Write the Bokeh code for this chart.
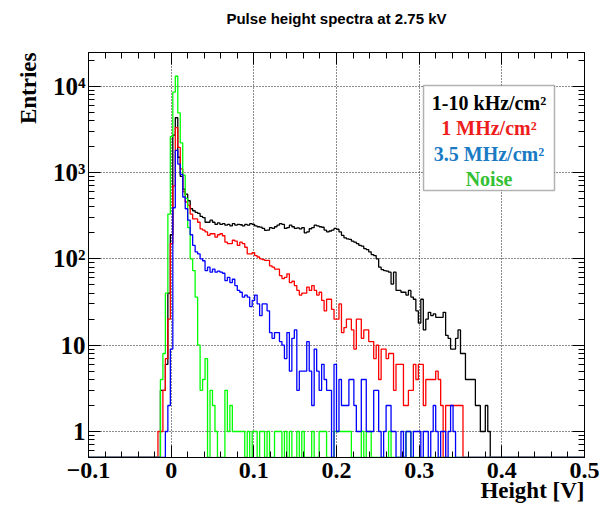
import numpy as np
from bokeh.plotting import figure
from bokeh.models import (Range1d, FixedTicker, LinearAxis, LogAxis, Label,
                          BoxAnnotation, Title)
from bokeh.embed import file_html
from bokeh.resources import INLINE

# ---- histogram binning (200 bins from -0.1 to 0.5 V) ----
x_min, x_max, n_bins = -0.1, 0.5, 200
first_bin = 28  # series below start at this bin index (x = -0.016 V)

# ---- series (entries per bin) ----
khz_counts = [0, 3, 3, 6, 40,
              190, 2700, 4300, 1500, 900, 640, 560, 470, 380, 360,
              345, 335, 310, 300, 265, 265, 280, 265, 250, 260,
              250, 255, 245, 250, 240, 255, 245, 250, 248, 240,
              250, 245, 255, 250, 240, 235,
              233, 225, 213, 215, 230, 225, 235, 245, 255, 250,
              225, 230, 245, 235, 225, 228, 222, 230, 200, 205,
              223, 230, 245, 240, 235, 232, 215, 205, 210, 215,
              225, 220, 205, 187, 175, 170, 168, 160, 156, 150,
              143, 140, 131, 128, 120, 112, 109, 100,
              80, 75, 73, 72, 70, 51, 70,
              43, 43, 41, 41, 38, 43, 36, 34, 25, 18,
              34, 15, 20, 24, 22, 23, 21, 21, 21, 24,
              13, 12, 9, 9, 12, 15, 8, 8,
              4, 4, 4, 4, 2, 2, 1, 1, 2, 1]

mhz1_counts = [1, 1, 3, 7, 20,
               150, 700, 3300, 1950, 1100, 600, 455, 415, 330, 290,
               290, 265, 222, 215, 205, 187, 195, 195, 178, 190,
               195, 185, 156, 150, 150, 164, 160, 143, 156, 150,
               136, 114, 114, 118,
               109, 105, 100, 98, 96, 96, 83, 80, 76, 76,
               64, 59, 61, 67, 53, 55, 49, 43, 38, 40,
               40, 47, 43, 49, 43, 38,
               41, 33, 25, 34, 34, 26, 20, 20, 30, 14,
               16, 20, 20, 15, 9, 20, 20, 12, 15, 15,
               11, 11, 7, 10,
               4, 9, 9, 7, 8, 8, 3, 6, 6, 6,
               2, 2, 3, 3, 6, 4, 6, 6, 2, 4,
               4, 4, 4, 5, 4, 2, 0, 2, 2, 2,
               2, 2, 2, 2]

mhz35_counts = [0, 0, 0, 1, 2,
                9, 390, 1800, 1250, 950, 520, 380, 280, 190, 143,
                120, 114, 100, 95, 73, 80, 70, 76, 70, 72,
                70, 68, 56, 61, 53, 58, 49, 43, 41, 36,
                38, 36, 28, 33, 38, 30, 22, 30, 30, 25,
                14, 12, 14, 14, 11, 10, 7, 14, 5, 12,
                15, 3, 5, 5, 5, 11, 5, 2, 9, 5,
                3, 6, 4, 3, 3, 0, 6, 1, 4, 2,
                2, 2, 4, 4, 2, 1, 1, 4, 4, 1,
                1, 1, 3, 3, 1, 0, 1, 2, 2, 1,
                1, 0, 0, 1, 0, 1, 1, 0, 1, 1,
                1, 0, 1, 1, 0, 1, 2, 1, 0, 1,
                1, 0, 1, 2, 1]

noise_counts = [0, 4, 8, 40, 330,
                2600, 8500, 13000, 4900, 2200, 930, 500, 230, 100, 73,
                36, 10, 3, 4, 7, 0, 3, 2, 1, 0,
                0, 0, 3, 1, 2, 1, 1, 1, 1, 1,
                0, 1, 0, 1, 1, 0, 1, 1, 0, 1,
                0, 0, 1, 1, 1, 0, 1, 0, 1, 0,
                0, 1, 0, 1, 0, 0, 0, 1, 0, 0,
                1, 1, 1, 0, 0, 0, 1, 1, 1, 1,
                1, 1, 1, 0, 0, 0, 0, 1, 0, 1,
                1, 0, 0, 0, 0, 0, 0, 0, 1, 0,
                0, 0, 0, 0, 0, 1, 1, 0]

series_names = ["1-10 kHz/cm\u00b2", "1 MHz/cm\u00b2", "3.5 MHz/cm\u00b2", "Noise"]
line_colors = ["#000000", "#ff0000", "#0000ff", "#00ff00"]
text_colors = ["#000000", "#ee1c1c", "#1a7ac4", "#33c033"]

x_ticks = [-0.1, 0, 0.1, 0.2, 0.3, 0.4, 0.5]
x_tick_labels = ["\u22120.1", "0", "0.1", "0.2", "0.3", "0.4", "0.5"]
y_ticks = [1, 10, 100, 1000, 10000]
y_tick_labels = ["1", "10", "10\u00b2", "10\u00b3", "10\u2074"]

y_lo, y_hi = 0.5, 24500

# ---- layout (page pixels) ----
FRAME_L, FRAME_T, FRAME_W, FRAME_H = 88, 52, 496, 405
BR, BB = 25, 47


def fx(px):
    return x_min + (px - FRAME_L) / FRAME_W * (x_max - x_min)


def fy(py):
    l0, l1 = np.log10(y_lo), np.log10(y_hi)
    return 10 ** (l0 + (FRAME_T + FRAME_H - py) / FRAME_H * (l1 - l0))


serif = "Liberation Serif"

p = figure(frame_width=FRAME_W, frame_height=FRAME_H,
           x_range=Range1d(x_min, x_max), y_range=Range1d(y_lo, y_hi),
           y_axis_type="log", output_backend="svg", toolbar_location=None,
           min_border_left=FRAME_L, min_border_right=BR,
           min_border_top=FRAME_T, min_border_bottom=BB)
p.title.text = "Pulse height spectra at 2.75 kV"
p.title.align = "center"
p.title.text_font = "Liberation Sans"
p.title.text_font_style = "bold"
p.title.text_font_size = "15px"
p.title.text_color = "black"
p.title.standoff = 0
p.outline_line_color = "black"
p.outline_line_width = 1
p.background_fill_color = "white"
p.border_fill_color = "white"

minor_x = [round(-0.1 + 0.02 * i, 4) for i in range(31)]
minor_y = [m * 10 ** d for d in range(-1, 5) for m in range(2, 10)]


def style_axis(ax, size):
    ax.axis_line_color = "black"
    ax.major_tick_in = 12
    ax.major_tick_out = 0
    ax.minor_tick_in = 6
    ax.minor_tick_out = 0
    ax.major_tick_line_color = "black"
    ax.minor_tick_line_color = "black"
    ax.major_label_text_font = serif
    ax.major_label_text_font_style = "bold"
    ax.major_label_text_color = "black"
    ax.major_label_text_font_size = size


xt = FixedTicker(ticks=x_ticks, minor_ticks=minor_x)
yt = FixedTicker(ticks=y_ticks, minor_ticks=minor_y)

xa = p.xaxis[0]
xa.ticker = xt
xa.major_label_overrides = dict(zip(x_ticks, x_tick_labels))
style_axis(xa, "24px")
xa.major_label_standoff = 5

ya = p.yaxis[0]
ya.ticker = yt
ya.major_label_overrides = dict(zip(y_ticks, y_tick_labels))
style_axis(ya, "25px")
ya.major_label_standoff = 3

top = LinearAxis(ticker=xt)
style_axis(top, "10px")
top.major_label_overrides = {t: "" for t in x_ticks}
top.major_label_standoff = 0
p.add_layout(top, "above")

# invisible spacer between the top axis and the title
spacer = LinearAxis(ticker=xt, major_tick_out=26, major_tick_in=0,
                    minor_tick_out=0, minor_tick_in=0,
                    major_tick_line_color=None, minor_tick_line_color=None,
                    axis_line_color=None, major_label_standoff=0,
                    major_label_text_font_size="10px")
spacer.major_label_overrides = {t: "" for t in x_ticks}
p.add_layout(spacer, "above")

right = LogAxis(ticker=yt)
style_axis(right, "10px")
right.major_label_overrides = {t: "" for t in y_ticks}
right.major_label_standoff = 0
p.add_layout(right, "right")

for g, t in ((p.xgrid[0], xt), (p.ygrid[0], yt)):
    g.ticker = t
    g.grid_line_color = "black"
    g.grid_line_alpha = 0.9
    g.grid_line_dash = "1 2"
    g.grid_line_width = 1

# ---- axis titles (as plot titles, so they sit outside the frame) ----
xlab = Title(text="Height [V]", align="right", text_font=serif,
             text_font_style="bold", text_font_size="23px", text_color="black")
try:
    xlab.standoff = -10
except Exception:
    xlab.standoff = 0
    xlab.text_font_size = "21px"
p.add_layout(xlab, "below")
p.add_layout(Title(text="Entries", align="right", text_font=serif,
                   text_font_style="bold", text_font_size="23px",
                   standoff=20, text_color="black"), "left")

# ---- histograms ----
edges = np.linspace(x_min, x_max, n_bins + 1)
for counts, col in zip([khz_counts, mhz1_counts, noise_counts, mhz35_counts],
                       [line_colors[0], line_colors[1], line_colors[3], line_colors[2]]):
    full = np.zeros(n_bins)
    full[first_bin:first_bin + len(counts)] = counts
    shown = np.maximum(full, y_lo)
    p.step(x=edges, y=np.append(shown, shown[-1]), mode="after",
           line_color=col, line_width=1.3)

# ---- legend box ----
p.add_layout(BoxAnnotation(left=fx(423), right=fx(554), top=fy(85), bottom=fy(190),
                           fill_color="white", fill_alpha=1.0,
                           line_color="black", line_width=1.5))
for name, col, py in zip(series_names, text_colors, [102, 127, 153, 178]):
    p.add_layout(Label(x=fx(488.5), y=fy(py), text=name, text_color=col,
                       text_font=serif, text_font_style="bold",
                       text_font_size="20px", text_align="center",
                       text_baseline="middle"))

open("out.html", "w").write(file_html(p, INLINE))
